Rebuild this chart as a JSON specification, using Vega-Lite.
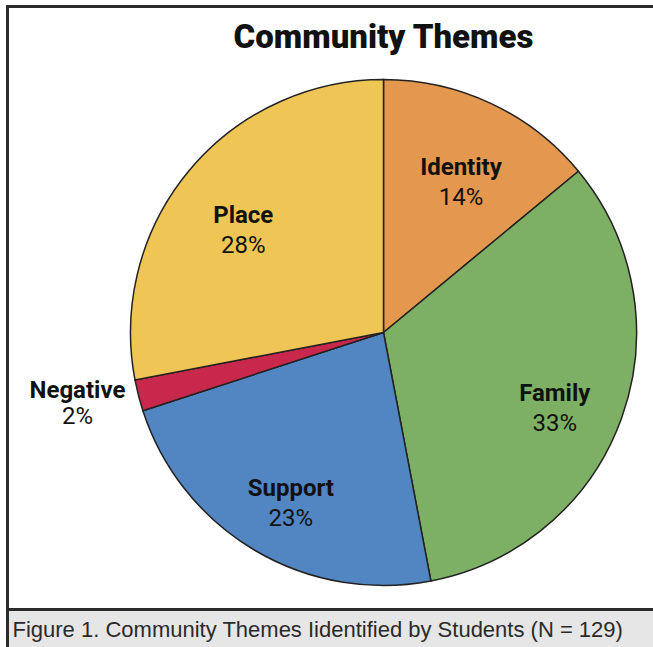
{
  "$schema": "https://vega.github.io/schema/vega-lite/v6.json",
  "padding": {"left": 5.5, "top": 4.5, "right": -3.5, "bottom": -3.5},
  "background": "white",
  "bounds": "flush",
  "spacing": 0,
  "config": {"font": "Roboto"},
  "vconcat": [
    {
      "width": 648,
      "height": 603,
      "view": {"stroke": "#2b2b2b", "strokeWidth": 3, "fill": "white"},
      "title": {
        "text": "Community Themes",
        "frame": "group",
        "anchor": "middle",
        "dx": 52,
        "offset": -74,
        "baseline": "alphabetic",
        "font": "Roboto",
        "fontSize": 33,
        "fontWeight": 900,
        "color": "#111111"
      },
      "data": {
        "values": [
          {"category": "Identity", "share": 0.14, "rank": 1},
          {"category": "Family", "share": 0.33, "rank": 2},
          {"category": "Support", "share": 0.23, "rank": 3},
          {"category": "Negative", "share": 0.02, "rank": 4},
          {"category": "Place", "share": 0.28, "rank": 5}
        ]
      },
      "encoding": {
        "theta": {"field": "share", "type": "quantitative", "stack": true},
        "order": {"field": "rank", "type": "quantitative"}
      },
      "layer": [
        {
          "mark": {"type": "arc", "radius": 253, "stroke": "#222222", "strokeWidth": 1.5, "xOffset": 52, "yOffset": 24.5},
          "encoding": {
            "color": {
              "field": "category",
              "type": "nominal",
              "scale": {
                "domain": ["Identity", "Family", "Support", "Negative", "Place"],
                "range": ["#E3974F", "#7DB064", "#5286C3", "#C8284B", "#EFC655"]
              },
              "legend": null
            }
          }
        },
        {
          "mark": {"type": "text", "radius": 182, "xOffset": 52, "yOffset": 24.5, "dy": 0, "font": "Roboto", "fontSize": 24, "fontWeight": "bold", "color": "#111111"},
          "encoding": {
            "detail": {"field": "category", "type": "nominal"},
            "text": {"condition": {"test": "datum.category === 'Negative'", "value": ""}, "field": "category", "type": "nominal"}
          }
        },
        {
          "mark": {"type": "text", "radius": 182, "xOffset": 52, "yOffset": 24.5, "dy": 30, "font": "Roboto", "fontSize": 24, "color": "#111111"},
          "encoding": {
            "detail": {"field": "category", "type": "nominal"},
            "text": {"condition": {"test": "datum.category === 'Negative'", "value": ""}, "field": "share", "type": "quantitative", "format": ".0%"}
          }
        },
        {
          "mark": {"type": "text", "radius": 316, "xOffset": 52, "yOffset": 24.5, "dy": -20, "font": "Roboto", "fontSize": 24, "fontWeight": "bold", "color": "#111111"},
          "encoding": {
            "detail": {"field": "category", "type": "nominal"},
            "text": {"condition": {"test": "datum.category !== 'Negative'", "value": ""}, "field": "category", "type": "nominal"}
          }
        },
        {
          "mark": {"type": "text", "radius": 316, "xOffset": 52, "yOffset": 24.5, "dy": 6, "font": "Roboto", "fontSize": 24, "color": "#111111"},
          "encoding": {
            "detail": {"field": "category", "type": "nominal"},
            "text": {"condition": {"test": "datum.category !== 'Negative'", "value": ""}, "field": "share", "type": "quantitative", "format": ".0%"}
          }
        }
      ]
    },
    {
      "width": 648,
      "height": 40,
      "view": {"stroke": "#2b2b2b", "strokeWidth": 3, "fill": "#e6e6e6"},
      "data": {"values": [{"caption": "Figure 1. Community Themes Iidentified by Students (N = 129)"}]},
      "mark": {"type": "text", "align": "left", "baseline": "middle", "dx": 5, "font": "Liberation Sans", "fontSize": 22, "color": "#2a2a2a"},
      "encoding": {
        "x": {"datum": 0, "type": "quantitative", "scale": {"domain": [0, 1]}, "axis": null},
        "text": {"field": "caption", "type": "nominal"}
      }
    }
  ]
}
